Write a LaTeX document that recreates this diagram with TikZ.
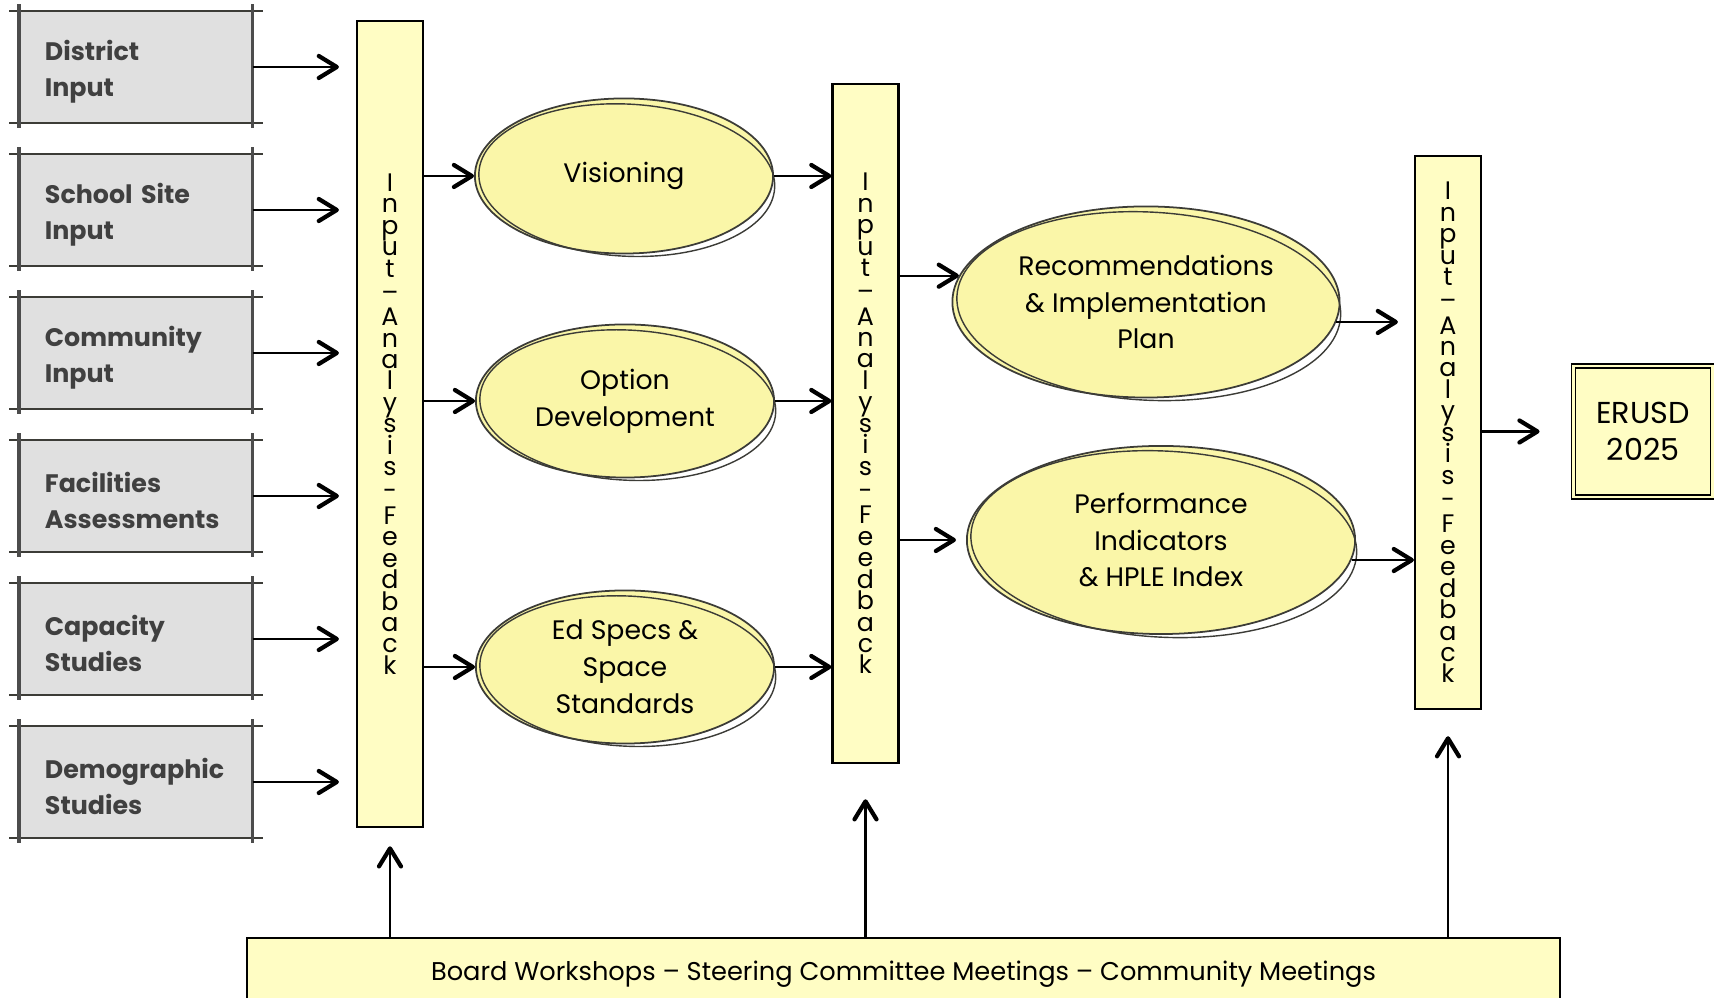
\documentclass[tikz,border=0pt]{standalone}
\usepackage{fontspec}
\setmainfont{Poppins}
\usetikzlibrary{arrows.meta,shapes.geometric,positioning}

\definecolor{boxgray}{RGB}{224,224,224}
\definecolor{boxtext}{RGB}{64,64,64}
\definecolor{barfill}{RGB}{255,253,196}
\definecolor{ellfill}{RGB}{250,246,168}
\definecolor{sketch}{RGB}{60,60,55}

% letters of the feedback bars, one under the other
\newcommand{\fbstack}{I\\n\\p\\u\\t\\[0.8pt]–\\[0.8pt]A\\n\\a\\l\\y\\s\\i\\s\\[0.8pt]-\\[0.8pt]F\\e\\e\\d\\b\\a\\c\\k}

\tikzset{
    inbox/.style={fill=boxgray,text=boxtext,font=\bfseries\fontsize{7.2}{10.2}\selectfont,text width=18.2mm,inner xsep=2.5mm,minimum height=11mm,align=left,execute at begin node={\rule{0pt}{3mm}}},
    fbbar/.style={draw,line width=0.6pt,fill=barfill,minimum width=6.6mm,align=center,font=\fontsize{7.2}{6.1}\selectfont},
    stage/.style={ellipse,fill=ellfill,draw=sketch,line width=0.5pt,inner sep=0pt,align=center,font=\fontsize{7.6}{10.5}\selectfont},
    arr/.style={line width=0.6pt,-{Straight Barb[length=1.8mm,width=2.2mm,line width=1.2pt,round]}},
    rough/.style={draw=sketch,line width=0.4pt},
}

\begin{document}
\begin{tikzpicture}[x=0.01cm,y=-0.01cm]
        \useasboundingbox (0,0) rectangle (1714,998);
        \node[fbbar,minimum height=80.6mm] (bar1) at (390,424) {\fbstack};
        \node[fbbar,minimum height=67.9mm] (bar2) at (865.5,423.5) {\fbstack};
        \node[fbbar,minimum height=55.3mm] (bar3) at (1448,432.5) {\fbstack};
        \foreach \i/\txt in {1/{District\\Input},2/{School Site\\Input},3/{Community\\Input},4/{Facilities\\Assessments},5/{Capacity\\Studies},6/{Demographic\\Studies}}{
                \node[inbox] (in\i) at (136,{67+143*(\i-1)}) {\txt};
                \draw[rough,line width=0.6pt]([xshift=-1mm]in\i.north west) -- ([xshift=1mm]in\i.north east);
                \draw[rough,line width=0.6pt]([xshift=-1mm]in\i.south west) -- ([xshift=1mm]in\i.south east);
                \draw[gray!60!black,line width=1.2pt]([yshift=0.7mm]in\i.north west) -- ([yshift=-0.5mm]in\i.south west);
                \draw[gray!60!black,line width=0.8pt]([yshift=0.7mm]in\i.north east) -- ([yshift=-0.5mm]in\i.south east);
                \draw[arr](in\i.east) -- ([xshift=-1.7mm]in\i.east -| bar1.west);
        };
        \node[stage,minimum width=29.8mm,minimum height=15.5mm] (vis) at (624,176) {Visioning};
        \node[stage,minimum width=29.8mm,minimum height=15.3mm] (opt) at (625,401) {Option\\Development};
        \node[stage,minimum width=29.8mm,minimum height=15.3mm] (eds) at (625,667) {Ed Specs \&\\Space\\Standards};
        \node[stage,minimum width=38.7mm,minimum height=19.1mm] (rec) at (1146,302) {Recommendations\\\& Implementation\\Plan};
        \node[stage,minimum width=38.8mm,minimum height=18.8mm] (perf) at (1161,540) {Performance\\Indicators\\\& HPLE Index};
        \foreach \n/\rx/\ry in {vis/14.8/7.6,opt/14.8/7.5,eds/14.8/7.5,rec/19.2/9.4,perf/19.3/9.3}{
                \draw[rough,rotate around={-3:(\n.center)}]([xshift=0.3mm,yshift=-0.4mm]\n.center) ellipse[x radius=\rx mm,y radius=\ry mm];
        };
        \node[draw,line width=0.5pt,double=barfill,double distance=0.6pt,fill=barfill,minimum width=13.9mm,minimum height=13.1mm,align=center,font=\fontsize{8.6}{10.4}\selectfont] (erusd) at (1643,431.5) {ERUSD\\2025};
        \node[draw,line width=0.6pt,fill=barfill,minimum width=131.3mm,minimum height=7.2mm,font=\fontsize{7.3}{8}\selectfont] (meet) at (903.5,974) {Board Workshops – Steering Committee Meetings – Community Meetings};
        % arrows between the stages
        \foreach \n in {vis,opt,eds}{
                \draw[arr](bar1.east |- \n.west) -- (\n.west);
                \draw[arr](\n.east) -- (\n.east -| bar2.west);
        };
        \draw[arr](bar2.east |- rec.172) -- (rec.172);
        \draw[arr](rec.-6) -- ([xshift=-1.6mm]rec.-6 -| bar3.west);
        \draw[arr](bar2.east |- perf.west) -- ([xshift=-1mm]perf.west);
        \draw[arr](perf.-6) -- (perf.-6 -| bar3.west);
        \draw[arr](bar3.east |- erusd.west) -- ([xshift=-3.3mm]erusd.west);
        % feedback from the meetings
        \draw[arr](meet.north -| bar1.south) -- ([yshift=-1.8mm]bar1.south);
        \draw[arr](meet.north -| bar2.south) -- ([yshift=-3.5mm]bar2.south);
        \draw[arr](meet.north -| bar3.south) -- ([yshift=-2.6mm]bar3.south);
\end{tikzpicture}
\end{document}
